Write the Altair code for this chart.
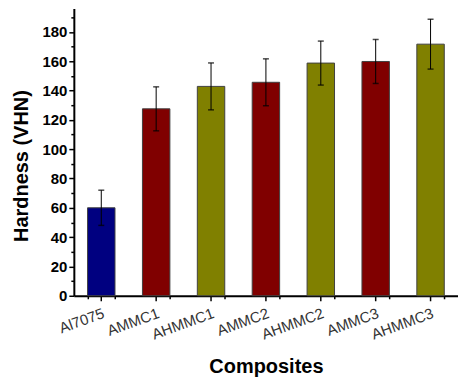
import altair as alt
import pandas as pd

categories = ["Al7075", "AMMC1", "AHMMC1", "AMMC2", "AHMMC2", "AMMC3", "AHMMC3"]
hardness = [60, 127.5, 142.8, 145.6, 158.7, 159.8, 171.6]
errors = [12, 15, 16, 16, 15, 15, 17]
groups = ["Base", "AMMC", "AHMMC", "AMMC", "AHMMC", "AMMC", "AHMMC"]
group_names = ["Base", "AMMC", "AHMMC"]
group_colors = ["#000080", "#800000", "#808000"]
major_y = list(range(0, 181, 20))
minor_y = list(range(10, 191, 20))

df = pd.DataFrame({"cat": categories, "hardness": hardness, "err": errors, "group": groups})
df["lo"] = df["hardness"] - df["err"]
df["hi"] = df["hardness"] + df["err"]

FONT = "Liberation Sans"
xscale = alt.Scale(paddingInner=0.5, paddingOuter=0.25)
yscale = alt.Scale(domain=[0, 196], nice=False)

x_axis = alt.Axis(orient="bottom", title="Composites", labelAngle=-20,
                  labelAlign="right", labelBaseline="top", labelFont=FONT,
                  labelFontSize=15, labelColor="#333333", labelPadding=5,
                  labelOverlap=False,
                  tickSize=5, tickColor="black", tickWidth=1.5,
                  domainColor="black", domainWidth=2,
                  titleFont=FONT, titleFontSize=20, titleFontWeight="bold",
                  titleColor="black", titleBaseline="alphabetic", titleY=77)
y_axis = alt.Axis(orient="left", title="Hardness (VHN)", values=major_y,
                  labelFont=FONT, labelFontSize=15, labelFontWeight="bold",
                  labelColor="black", labelPadding=2, labelOverlap=False,
                  labelFlush=False, tickSize=5,
                  tickColor="black", tickWidth=1.5, domainColor="black",
                  domainWidth=2, grid=False, titleFont=FONT, titleFontSize=20,
                  titleFontWeight="bold", titleColor="black",
                  titleBaseline="alphabetic", titleX=-46, titleY=157.5)

X = alt.X("cat:N", sort=categories, scale=xscale, axis=x_axis)

bars = alt.Chart(df).mark_bar(stroke="#404040", strokeWidth=1).encode(
    x=X,
    y=alt.Y("hardness:Q", scale=yscale, axis=y_axis),
    color=alt.Color("group:N", scale=alt.Scale(domain=group_names, range=group_colors), legend=None),
)

err_rule = alt.Chart(df).mark_rule(color="black", strokeWidth=1).encode(
    x=X,
    y=alt.Y("lo:Q", scale=yscale, axis=y_axis),
    y2="hi:Q",
)
cap_lo = alt.Chart(df).mark_tick(color="black", size=6, thickness=1.5).encode(
    x=X,
    y=alt.Y("lo:Q", scale=yscale, axis=y_axis),
)
cap_hi = alt.Chart(df).mark_tick(color="black", size=6, thickness=1.5).encode(
    x=X,
    y=alt.Y("hi:Q", scale=yscale, axis=y_axis),
)

main = alt.layer(bars, err_rule, cap_lo, cap_hi)

minor = alt.Chart(df).mark_point(opacity=0).encode(
    x=alt.X("cat:N", sort=categories, scale=xscale,
            axis=alt.Axis(orient="bottom", title=None, labels=False, domain=False,
                          tickBand="extent", tickSize=3, tickColor="black", tickWidth=1.5)),
    y=alt.Y("hardness:Q", scale=yscale,
            axis=alt.Axis(orient="left", title=None, labels=False, domain=False,
                          values=minor_y, tickSize=3, tickColor="black", tickWidth=1.5,
                          grid=False)),
)

chart = alt.layer(main, minor).resolve_axis(x="independent", y="independent").properties(
    width=385, height=288,
    autosize=alt.AutoSizeParams(type="none"),
    padding={"left": 74, "top": 8, "right": 0, "bottom": 82},
    background="white",
).configure_view(stroke=None)

chart.save("out.html", embed_options={"renderer": "svg", "actions": False})
